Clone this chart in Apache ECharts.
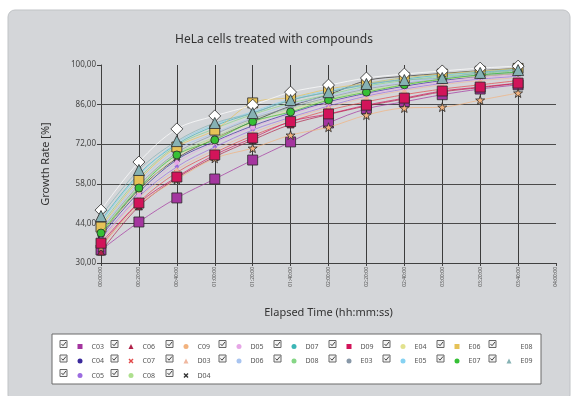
<!DOCTYPE html>
<html><head><meta charset="utf-8">
<script src="https://cdn.jsdelivr.net/npm/echarts@6/dist/echarts.min.js"></script>
<style>html,body{margin:0;padding:0;background:#fff}#c{width:574px;height:396px}</style>
</head><body><div id="c"></div>
<script>
// ---- data ----
const timeLabels = ['00:00:00','00:20:00','00:40:00','01:00:00','01:20:00','01:40:00','02:00:00','02:20:00','02:40:00','03:00:00','03:20:00','03:40:00','04:00:00'];
const yTicks = [30, 44, 58, 72, 86, 100];
const gridValues = [44, 58, 72, 86];

const C03 = [34.6, 44.5, 53.0, 59.7, 66.4, 72.8, 79.5, 84.5, 87.0, 89.5, 91.5, 93.0];
const C04 = [39.5, 55.0, 66.5, 73.0, 78.5, 83.0, 87.0, 90.0, 92.5, 94.5, 96.0, 97.0];
const C05 = [38.5, 53.5, 64.0, 71.0, 77.0, 81.5, 85.5, 89.0, 91.5, 93.5, 95.0, 96.0];
const C06 = [34.0, 50.0, 60.0, 67.5, 73.5, 79.0, 82.5, 85.5, 88.0, 90.5, 92.0, 93.5];
const C07 = [36.0, 51.5, 62.0, 69.0, 75.0, 80.0, 84.0, 87.0, 89.5, 91.5, 93.0, 94.5];
const C08 = [41.0, 57.0, 68.5, 74.5, 80.5, 84.5, 88.0, 91.0, 93.0, 95.0, 96.5, 97.5];
const C09 = [35.5, 50.5, 59.5, 67.0, 70.6, 75.2, 78.0, 82.3, 84.8, 85.1, 87.6, 90.1];
const D03 = [37.5, 53.0, 63.0, 70.0, 76.0, 81.0, 85.0, 88.5, 91.0, 93.0, 94.5, 95.5];
const D04 = [40.0, 56.0, 67.0, 74.0, 80.0, 85.5, 89.5, 94.5, 96.0, 97.0, 98.0, 98.8];
const D05 = [38.0, 54.0, 65.5, 72.5, 78.0, 82.5, 86.5, 89.5, 92.0, 94.0, 95.5, 96.5];
const D06 = [42.0, 58.5, 70.0, 76.0, 81.5, 86.0, 89.0, 92.0, 94.0, 95.5, 97.0, 98.0];
const D07 = [45.0, 61.5, 72.0, 78.5, 83.0, 87.5, 90.5, 93.0, 95.0, 96.5, 97.5, 98.5];
const D08 = [43.5, 60.0, 71.5, 77.5, 82.5, 86.5, 89.5, 92.5, 94.5, 96.0, 97.0, 98.0];
const D09 = [37.0, 51.2, 60.4, 68.2, 74.2, 80.0, 82.7, 85.8, 88.3, 90.8, 92.2, 93.6];
const E03 = [41.5, 57.5, 69.0, 75.5, 81.0, 85.0, 88.5, 91.5, 93.5, 95.0, 96.5, 97.5];
const E04 = [40.5, 55.5, 67.5, 74.0, 79.5, 84.0, 87.5, 90.5, 93.0, 95.0, 96.0, 97.0];
const E05 = [44.5, 61.0, 72.5, 79.0, 83.5, 88.0, 91.0, 93.5, 95.5, 96.5, 97.8, 98.5];
const E06 = [42.7, 59.3, 71.0, 77.0, 86.6, 88.5, 91.5, 93.5, 95.5, 96.8, 97.8, 98.8];
const E07 = [40.6, 56.5, 68.2, 73.5, 80.0, 83.4, 87.6, 90.4, 93.0, 95.0, 96.5, 97.5];
const E08 = [48.7, 65.7, 77.4, 82.0, 85.8, 90.4, 92.9, 95.4, 96.8, 97.9, 98.9, 99.6];
const E09 = [46.6, 62.9, 73.1, 79.5, 83.0, 87.6, 90.4, 93.3, 94.7, 95.4, 97.2, 98.2];

const seriesNames = ['C03','C04','C05','C06','C07','C08','C09','D03','D04','D05','D06','D07','D08','D09','E03','E04','E05','E06','E07','E08','E09'];
const seriesValues = [C03,C04,C05,C06,C07,C08,C09,D03,D04,D05,D06,D07,D08,D09,E03,E04,E05,E06,E07,E08,E09];
const legendColumns = [['C03','C04','C05'],['C06','C07','C08'],['C09','D03','D04'],['D05','D06'],['D07','D08'],['D09','E03'],['E04','E05'],['E06','E07'],['E08','E09']];

// ---- styles ----
const XPATH = 'path://M2,0L5,3L8,0L10,2L7,5L10,8L8,10L5,7L2,10L0,8L3,5L0,2Z';
const STAR = 'path://M5,0L6.2,3.6L10,3.6L7,5.9L8.1,9.5L5,7.3L1.9,9.5L3,5.9L0,3.6L3.8,3.6Z';
const styles = {
  C03:{c:'#a4359f',s:'rect',z:10,b:true},
  C04:{c:'#3b2a9c',s:'circle',z:6,b:true},
  C05:{c:'#9c6ce0',s:'diamond',z:5},
  C06:{c:'#b0234a',s:'triangle',z:7,b:true},
  C07:{c:'#e24a4a',s:XPATH,z:6},
  C08:{c:'#aee08e',s:'circle',z:5},
  C09:{c:'#f2b27e',s:STAR,z:9,b:true},
  D03:{c:'#f0b8a0',s:'triangle',z:6},
  D04:{c:'#333333',s:XPATH,z:6},
  D05:{c:'#e6a6e6',s:'circle',z:5},
  D06:{c:'#a8c4f0',s:'circle',z:5},
  D07:{c:'#3cb6b6',s:'circle',z:6},
  D08:{c:'#86d686',s:'circle',z:5},
  D09:{c:'#d2145a',s:'rect',z:10,b:true},
  E03:{c:'#8898a8',s:'circle',z:5},
  E04:{c:'#e2e28e',s:'circle',z:5},
  E05:{c:'#86d2f2',s:'circle',z:5},
  E06:{c:'#e6c257',s:'rect',z:10,b:true},
  E07:{c:'#36c036',s:'circle',z:8,b:true},
  E08:{c:'#ffffff',s:'diamond',z:12,b:true},
  E09:{c:'#86b2b4',s:'triangle',z:11,b:true}
};
const legendIcon = {C03:'rect',C04:'circle',C05:'circle',C06:'triangle',C07:XPATH,C08:'circle',C09:'circle',D03:'triangle',D04:XPATH,D05:'circle',D06:'circle',D07:'circle',D08:'circle',D09:'rect',E03:'circle',E04:'circle',E05:'circle',E06:'rect',E07:'circle',E08:'circle',E09:'triangle'};

const FONT = '"Noto Sans", "Open Sans", sans-serif';
const series = seriesNames.map((n,i)=>{
  const st = styles[n];
  const o = {
    name:n, type:'line', data:seriesValues[i], smooth:0.35,
    symbol:st.s, symbolSize:st.z, showAllSymbol:true,
    lineStyle:{width:1, color:st.c, opacity:0.7},
    itemStyle:{color:st.c, borderColor:st.b?'#2a2a2a':st.c, borderWidth:st.b?0.8:0},
    emphasis:{disabled:true}, z:3+i
  };
  if(i===0){
    o.markLine = {silent:true, symbol:['none','none'], label:{show:false},
      lineStyle:{color:'#4a4a4a', type:'solid', width:1}, z:1,
      data: gridValues.map(v=>({yAxis:v}))};
  }
  return o;
});

const colX = [60,111,166,219,274,329,383,437,489];
const rowY = [344,358.5,373];
const legends = legendColumns.map((col,ci)=>({
  orient:'vertical', left: colX[ci]+15-2.5, top: rowY[0]-7,
  itemWidth:5, itemHeight:5, itemGap:5.5, selectedMode:false,
  itemStyle:{borderWidth:0},
  textStyle:{fontSize:7, color:'#555', fontFamily:FONT, lineHeight:9, padding:[0,0,0,4]},
  data: col.map(n=>({name:n, icon:legendIcon[n]}))
}));

const graphics = [
  {type:'rect', shape:{x:8,y:10,width:562,height:392,r:7}, style:{fill:'#d4d6d9', stroke:'#c0c3c6', lineWidth:1}, z:-10},
  {type:'rect', shape:{x:52,y:334,width:489,height:50}, style:{fill:'#ffffff', stroke:'#6a6a6a', lineWidth:1}, z:-5}
];
legendColumns.forEach((col,ci)=>{
  col.forEach((n,ri)=>{
    const x = colX[ci], y = rowY[ri]-3.5;
    graphics.push({type:'rect', shape:{x:x,y:y,width:7,height:7}, style:{fill:'#f4f4f4', stroke:'#666', lineWidth:1}, z:5});
    graphics.push({type:'polyline', shape:{points:[[x+1.5,y+3.5],[x+3,y+5.2],[x+6,y+1.5]]}, style:{stroke:'#444', lineWidth:1, fill:null}, z:6});
  });
});

const chart = echarts.init(document.getElementById('c'), null, {renderer:'canvas'});
chart.setOption({
  animation:false,
  backgroundColor:'#ffffff',
  title:{text:'HeLa cells treated with compounds', left:269, top:29, textAlign:'center',
    textStyle:{fontSize:12, fontWeight:'normal', color:'#333', fontFamily:FONT}},
  grid:{left:101, right:18, top:65, bottom:133},
  xAxis:{type:'category', data:timeLabels, boundaryGap:false,
    name:'Elapsed Time (hh:mm:ss)', nameLocation:'middle', nameGap:44,
    nameTextStyle:{fontSize:11, color:'#333', fontFamily:FONT},
    axisLine:{lineStyle:{color:'#404040', width:1}},
    axisTick:{show:true, length:3, lineStyle:{color:'#404040'}},
    axisLabel:{rotate:90, fontSize:5, color:'#555', margin:4, interval:0, fontFamily:FONT},
    splitLine:{show:true, interval:(idx)=>idx>0 && idx<12, lineStyle:{color:'#3c3c3c', width:1}}},
  yAxis:{type:'value', min:30, max:100, interval:14,
    name:'Growth Rate [%]', nameLocation:'middle', nameGap:50,
    nameTextStyle:{fontSize:11, color:'#333', fontFamily:FONT},
    axisLine:{show:true, lineStyle:{color:'#404040', width:1}},
    axisTick:{show:true, length:4, lineStyle:{color:'#404040'}},
    axisLabel:{fontSize:8, color:'#444', margin:5, fontFamily:FONT,
      formatter:(v)=>v.toFixed(2).replace('.',',')},
    splitLine:{show:false}},
  legend:legends,
  graphic:graphics,
  series:series
});
</script></body></html>
